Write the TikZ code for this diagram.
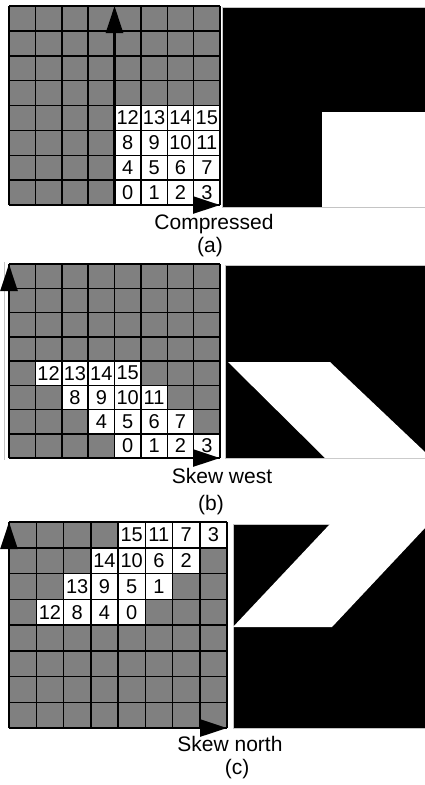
\documentclass[tikz,border=0pt]{standalone}
\usepackage{fontspec}
\setmainfont{Liberation Sans}
\usetikzlibrary{arrows.meta}
\definecolor{cellgray}{HTML}{808080}
\definecolor{framegray}{HTML}{C4C4C4}
\tikzset{
  cellbg/.style={fill=cellgray},
  freecell/.style={fill=white},
  gridline/.style={draw=black, line width=1.5pt},
  axis/.style={line width=2.8pt, -{Triangle[length=27pt,width=17pt]}},
  num/.style={font=\fontsize{20}{20}\selectfont, inner sep=0pt},
  captext/.style={font=\fontsize{21}{21}\selectfont, inner sep=0pt},
  photo/.style={fill=black, draw=framegray, line width=0.8pt},
}

\begin{document}
\begin{tikzpicture}[x=1pt,y=-1pt]
\useasboundingbox (0,0) rectangle (425,785);

% ---------- panel (a): compressed ----------
\begin{scope}[shift={(9,205)},x=26.375pt,y=24.875pt]
\fill[cellbg] (0,0) rectangle (8,8);
\foreach \n in {0,...,15}{
  \pgfmathtruncatemacro\cc{4+mod(\n,4)}
  \pgfmathtruncatemacro\rr{div(\n,4)}
  \fill[freecell] (\cc,\rr) rectangle ++(1,1);
  \node[num] (a\n) at (\cc+0.5,\rr+0.5) {\n};
}
\foreach \i in {0,...,8}{
  \draw[gridline] (\i,0) -- (\i,8);
  \draw[gridline] (0,\i) -- (8,\i);
}
\coordinate (aO) at (0,0);
\coordinate (aX) at (8,0);
\coordinate (aB) at (4,0);
\coordinate (aY) at (4,8);
\draw[axis] (aO) -- (aX);
\draw[axis] (aB) -- (aY);
\end{scope}
\fill[photo] (222,7) rectangle (425,207);
\fill[white] (322,112) rectangle (425,207);
\node[captext] (capA) at (214,224) {Compressed};
\node[captext] (labA) at (210,247) {(a)};

% ---------- panel (b): skew west ----------
\draw[framegray,line width=0.8pt] (4,262) -- (4,460);
\begin{scope}[shift={(9,458)},x=26.375pt,y=24.25pt]
\fill[cellbg] (0,0) rectangle (8,8);
\foreach \n in {0,...,15}{
  \pgfmathtruncatemacro\cc{4+mod(\n,4)-div(\n,4)}
  \pgfmathtruncatemacro\rr{div(\n,4)}
  \fill[freecell] (\cc,\rr) rectangle ++(1,1);
  \node[num] (b\n) at (\cc+0.5,\rr+0.5) {\n};
}
\foreach \i in {0,...,8}{
  \draw[gridline] (\i,0) -- (\i,8);
  \draw[gridline] (0,\i) -- (8,\i);
}
\coordinate (bO) at (0,0);
\coordinate (bX) at (8,0);
\coordinate (bY) at (0,8);
\draw[axis] (bO) -- (bX);
\draw[axis] (bO) -- (bY);
\end{scope}
\fill[photo] (225,265) rectangle (425,458);
\fill[white] (228,362) -- (330,362) -- (425,452) -- (425,458) -- (325,458) -- cycle;
\node[captext] (capB) at (222,476) {Skew west};
\node[captext] (labB) at (211,505) {(b)};

% ---------- panel (c): skew north ----------
\begin{scope}[shift={(9,728)},x=27.25pt,y=25.75pt]
\fill[cellbg] (0,0) rectangle (8,8);
\foreach \n in {0,...,15}{
  \pgfmathtruncatemacro\cc{4+mod(\n,4)-div(\n,4)}
  \pgfmathtruncatemacro\rr{4+mod(\n,4)}
  \fill[freecell] (\cc,\rr) rectangle ++(1,1);
  \node[num] (c\n) at (\cc+0.5,\rr+0.5) {\n};
}
\foreach \i in {0,...,8}{
  \draw[gridline] (\i,0) -- (\i,8);
  \draw[gridline] (0,\i) -- (8,\i);
}
\coordinate (cO) at (0,0);
\coordinate (cX) at (8,0);
\coordinate (cY) at (0,8);
\draw[axis] (cO) -- (cX);
\draw[axis] (cO) -- (cY);
\end{scope}
\fill[photo] (233,524) rectangle (425,728);
\fill[white] (233,627) -- (330,524) -- (425,524) -- (425,528) -- (332,627) -- cycle;
\node[captext] (capC) at (230,744) {Skew north};
\node[captext] (labC) at (237,769) {(c)};
\end{tikzpicture}
\end{document}
